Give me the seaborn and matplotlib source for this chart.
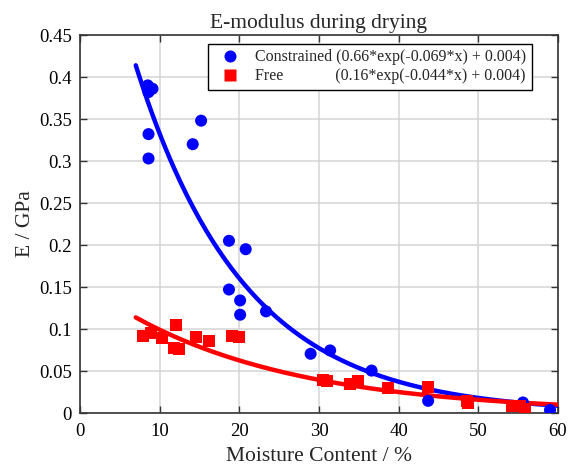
import numpy as np
import pandas as pd
import matplotlib
matplotlib.use("Agg")
import matplotlib.pyplot as plt
import seaborn as sns

# ---- data ----
cons_x = [8.5, 9.1, 8.6, 8.6, 8.6, 15.2, 14.15, 18.7, 20.8, 18.7, 20.1, 20.1,
          23.35, 28.95, 31.4, 36.6, 43.7, 55.6, 59.0]
cons_y = [0.390, 0.386, 0.382, 0.332, 0.303, 0.348, 0.320, 0.205, 0.195, 0.147,
          0.134, 0.117, 0.121, 0.0705, 0.0745, 0.0505, 0.0145, 0.0125, 0.0036]

free_x = [7.9, 8.9, 10.35, 12.1, 11.85, 12.45, 14.5, 16.2, 19.05, 20.0,
          30.55, 31.05, 33.9, 34.9, 38.7, 43.7, 48.55, 48.65, 54.2, 55.2, 55.85]
free_y = [0.092, 0.095, 0.089, 0.105, 0.077, 0.076, 0.0905, 0.086, 0.092, 0.0905,
          0.0395, 0.0385, 0.0345, 0.0375, 0.0295, 0.0315, 0.0145, 0.0115, 0.0084, 0.0080, 0.0044]

# fitted curve parameters (a*exp(-b*x) + c), as drawn
cons_fit = [0.69, 0.073, 0.0]
free_fit = [0.157, 0.046, 0.0]
fit_range = [7.0, 60.0]

labels = ["Constrained (0.66*exp(-0.069*x) + 0.004)",
          "Free" + " " * 13 + "(0.16*exp(-0.044*x) + 0.004)"]
colors = ["#0000ff", "#ff0000"]

title = "E-modulus during drying"
xlabel = "Moisture Content / %"
ylabel = "E / GPa"
xticks = [0, 10, 20, 30, 40, 50, 60]
yticks = [0, 0.05, 0.1, 0.15, 0.2, 0.25, 0.3, 0.35, 0.4, 0.45]
ytick_labels = ["0", "0.05", "0.1", "0.15", "0.2", "0.25", "0.3", "0.35", "0.4", "0.45"]

# ---- build tables ----
pts = pd.DataFrame({
    "x": cons_x + free_x,
    "y": cons_y + free_y,
    "series": [labels[0]] * len(cons_x) + [labels[1]] * len(free_x),
})
xx = np.linspace(fit_range[0], fit_range[1], 200)
fits = pd.DataFrame({
    "x": np.concatenate([xx, xx]),
    "y": np.concatenate([cons_fit[0] * np.exp(-cons_fit[1] * xx) + cons_fit[2],
                         free_fit[0] * np.exp(-free_fit[1] * xx) + free_fit[2]]),
    "series": [labels[0]] * len(xx) + [labels[1]] * len(xx),
})

sns.set_theme(style="whitegrid")
plt.rcParams["font.family"] = ["Liberation Serif", "DejaVu Serif"]
plt.rcParams["mathtext.fontset"] = "stix"

fig = plt.figure(figsize=(5.68, 4.71), dpi=100)
ax = fig.add_axes([80 / 568, 1 - 413 / 471, 478 / 568, 378 / 471])

palette = dict(zip(labels, colors))
sns.lineplot(data=fits, x="x", y="y", hue="series", palette=palette,
             linewidth=3.2, legend=False, ax=ax, zorder=3)
sns.scatterplot(data=pts, x="x", y="y", hue="series", style="series",
                markers={labels[0]: "o", labels[1]: "s"}, palette=palette,
                s=75, edgecolor="none", ax=ax, zorder=4)

ax.set_xlim(0, 60)
ax.set_ylim(0, 0.45)
ax.set_xticks(xticks)
ax.set_xticklabels([str(t) for t in xticks])
ax.set_yticks(yticks)
ax.set_yticklabels(ytick_labels)
ax.grid(True, color="#d4d4d4", linewidth=1.1)
ax.set_axisbelow(True)
for sp in ax.spines.values():
    sp.set_visible(True)
    sp.set_color("#333333")
    sp.set_linewidth(1.2)
ax.tick_params(direction="in", length=5, width=1, colors="#333333",
               top=True, right=True, bottom=True, left=True,
               labelsize=13.5, labelcolor="black")
ax.tick_params(axis="x", pad=7)
ax.tick_params(axis="y", pad=6)

ax.set_title(title, fontsize=15.5, pad=5)
ax.set_xlabel(xlabel, fontsize=15.5, labelpad=5)
ax.set_ylabel(ylabel, fontsize=15.5, labelpad=3)

leg = ax.legend(loc="upper right", bbox_to_anchor=(0.946, 0.977),
                borderaxespad=0, fontsize=11.5, frameon=True, fancybox=False,
                handletextpad=0.6, borderpad=0.35, labelspacing=0.2,
                handlelength=2.0)
leg.get_frame().set_edgecolor("black")
leg.get_frame().set_linewidth(1.0)
leg.get_frame().set_alpha(1)

fig.savefig("out.png", dpi=100)
